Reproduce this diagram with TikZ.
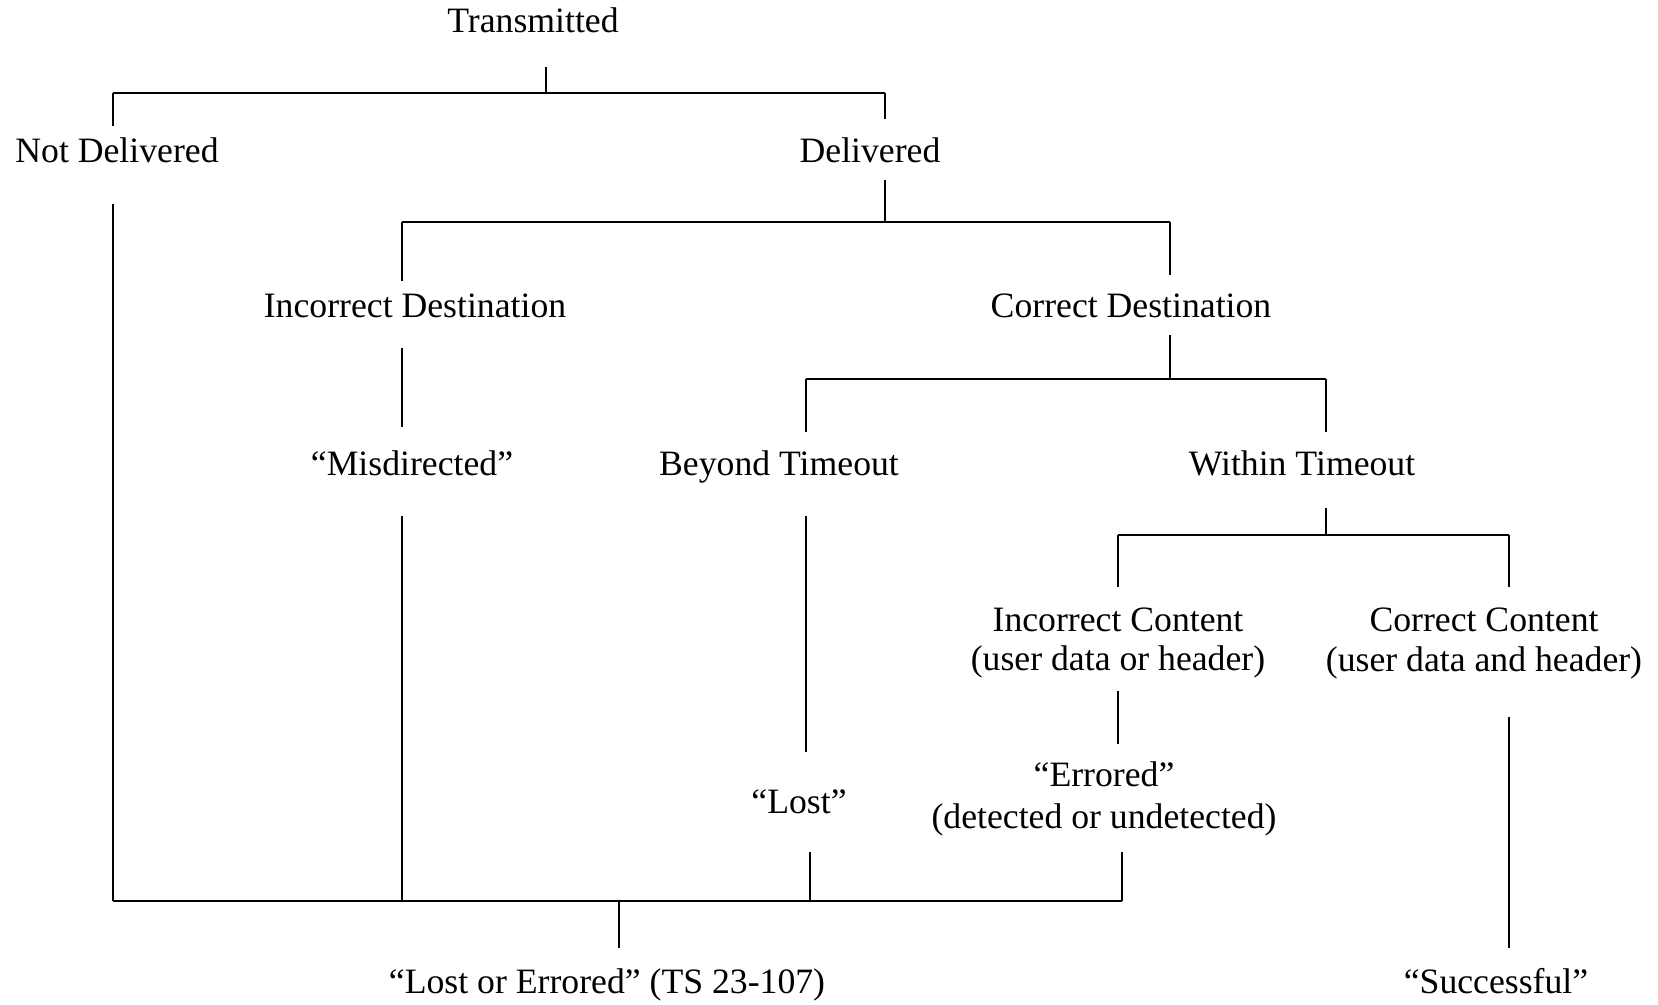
\documentclass[tikz,border=0pt]{standalone}
\usepackage{fontspec}
\setmainfont{Liberation Serif}
\begin{document}
\begin{tikzpicture}[x=0.5pt,y=-0.5pt,
  lbl/.style={inner sep=0pt, anchor=base, align=center, font=\fontsize{17.85}{20}\selectfont},
  vline/.style={line width=0.65pt},
  hline/.style={line width=1pt}]
\useasboundingbox (0,0) rectangle (1658,1005);
% labels
\node[lbl] (tx)   at (533,33)   {Transmitted};
\node[lbl] (nd)   at (117,163)  {Not Delivered};
\node[lbl] (dl)   at (870,163)  {Delivered};
\node[lbl] (idst) at (415,318)  {Incorrect Destination};
\node[lbl] (cdst) at (1131,318) {Correct Destination};
\node[lbl] (mis)  at (412,475)  {“Misdirected”};
\node[lbl] (bt)   at (779,475)  {Beyond Timeout};
\node[lbl] (wt)   at (1302,475) {Within Timeout};
\node[lbl, font=\fontsize{17.85}{19.5}\selectfont] (ic) at (1118,670) {Incorrect Content\\(user data or header)};
\node[lbl] (cc)   at (1484,671) {Correct Content\\(user data and header)};
\node[lbl] (lost) at (799,813)  {“Lost”};
\node[lbl, font=\fontsize{17.85}{21}\selectfont] (err) at (1104,828) {“Errored”\\(detected or undetected)};
\node[lbl] (loe)  at (607,993)  {“Lost or Errored” (TS 23-107)};
\node[lbl] (suc)  at (1496,993) {“Successful”};
% connector end points
\coordinate (tx-s) at (546,67);
\coordinate (j1) at (546,93);
\coordinate (j1l) at (113,93);
\coordinate (j1r) at (885,93);
\coordinate (nd-n) at (113,126);
\coordinate (dl-n) at (885,119);
\coordinate (nd-s) at (113,204);
\coordinate (dl-s) at (885,180);
\coordinate (j2) at (885,222);
\coordinate (j2l) at (402,222);
\coordinate (j2r) at (1170,222);
\coordinate (idst-n) at (402,281);
\coordinate (cdst-n) at (1170,275);
\coordinate (idst-s) at (402,348);
\coordinate (mis-n) at (402,427);
\coordinate (mis-s) at (402,516);
\coordinate (cdst-s) at (1170,335);
\coordinate (j3) at (1170,379);
\coordinate (j3l) at (806,379);
\coordinate (j3r) at (1326,379);
\coordinate (bt-n) at (806,432);
\coordinate (wt-n) at (1326,432);
\coordinate (bt-s) at (806,516);
\coordinate (lost-n) at (806,752);
\coordinate (wt-s) at (1326,508);
\coordinate (j4) at (1326,535);
\coordinate (j4l) at (1118,535);
\coordinate (j4r) at (1509,535);
\coordinate (ic-n) at (1118,587);
\coordinate (cc-n) at (1509,587);
\coordinate (ic-s) at (1118,691);
\coordinate (err-n) at (1118,744);
\coordinate (cc-s) at (1509,717);
\coordinate (suc-n) at (1509,948);
\coordinate (lost-s) at (810,852);
\coordinate (err-s) at (1122,852);
\coordinate (j5l) at (113,901);
\coordinate (j5m) at (402,901);
\coordinate (j5a) at (810,901);
\coordinate (j5r) at (1122,901);
\coordinate (j5) at (619,901);
\coordinate (loe-n) at (619,948);
% horizontal bars
\draw[hline] (j1l) -- (j1r);
\draw[hline] (j2l) -- (j2r);
\draw[hline] (j3l) -- (j3r);
\draw[hline] (j4l) -- (j4r);
\draw[hline] (j5l) -- (j5r);
% vertical connectors
\draw[vline] (tx-s) -- (j1);
\draw[vline] (j1l) -- (nd-n);
\draw[vline] (j1r) -- (dl-n);
\draw[vline] (nd-s) -- (j5l);
\draw[vline] (dl-s) -- (j2);
\draw[vline] (j2l) -- (idst-n);
\draw[vline] (j2r) -- (cdst-n);
\draw[vline] (idst-s) -- (mis-n);
\draw[vline] (mis-s) -- (j5m);
\draw[vline] (cdst-s) -- (j3);
\draw[vline] (j3l) -- (bt-n);
\draw[vline] (j3r) -- (wt-n);
\draw[vline] (bt-s) -- (lost-n);
\draw[vline] (wt-s) -- (j4);
\draw[vline] (j4l) -- (ic-n);
\draw[vline] (j4r) -- (cc-n);
\draw[vline] (ic-s) -- (err-n);
\draw[vline] (cc-s) -- (suc-n);
\draw[vline] (lost-s) -- (j5a);
\draw[vline] (err-s) -- (j5r);
\draw[vline] (j5) -- (loe-n);
\end{tikzpicture}
\end{document}
